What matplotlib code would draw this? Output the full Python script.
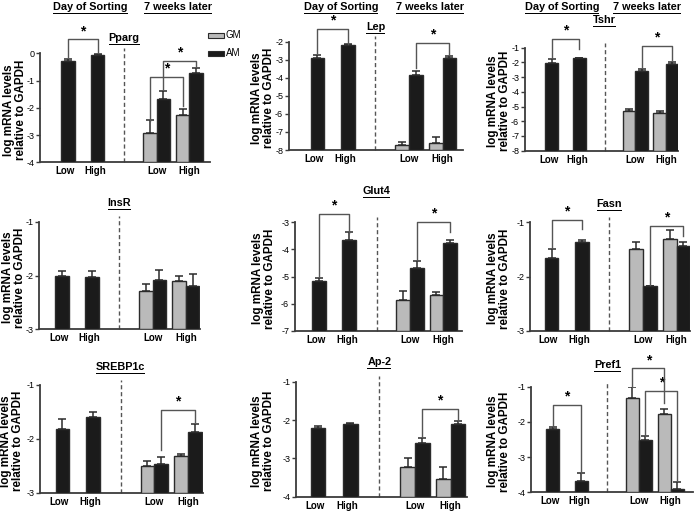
import matplotlib
matplotlib.use('Agg')
import matplotlib.pyplot as plt
from matplotlib.patches import Rectangle
from matplotlib.transforms import blended_transform_factory

plt.rcParams['font.family'] = ['Liberation Sans', 'DejaVu Sans']
plt.rcParams['axes.unicode_minus'] = False

# ---------------- data ----------------
genes = ['Pparg', 'Lep', 'Tshr', 'InsR', 'Glut4', 'Fasn', 'SREBP1c', 'Ap-2', 'Pref1']
group_labels = ['Low', 'High', 'Low', 'High']
header_labels = ['Day of Sorting', '7 weeks later']
legend_labels = ['GM', 'AM']
ylabel_text = 'log mRNA levels\nrelative to GAPDH'

# Day of sorting (AM only)
day_low      = [-0.28, -2.92, -2.02, -2.00, -5.15, -1.665, -1.82, -2.22, -2.21]
day_low_err  = [0.08, 0.18, 0.23, 0.09, 0.08, 0.17, 0.18, 0.06, 0.07]
day_high     = [-0.07, -2.20, -1.72, -2.02, -3.66, -1.37, -1.60, -2.11, -3.67]
day_high_err = [0.03, 0.07, 0.03, 0.11, 0.32, 0.04, 0.09, 0.03, 0.21]
# 7 weeks later
gm_low       = [-2.91, -7.72, -5.31, -2.28, -5.87, -1.50, -2.50, -3.22, -1.33]
gm_low_err   = [0.46, 0.18, 0.14, 0.12, 0.33, 0.13, 0.08, 0.22, 0.31]
am_low       = [-1.68, -3.86, -2.59, -2.09, -4.70, -2.18, -2.46, -2.59, -2.51]
am_low_err   = [0.31, 0.26, 0.16, 0.20, 0.28, 0.01, 0.13, 0.13, 0.11]
gm_high      = [-2.26, -7.63, -5.47, -2.10, -5.70, -1.30, -2.32, -3.55, -1.78]
gm_high_err  = [0.20, 0.33, 0.16, 0.10, 0.12, 0.15, 0.03, 0.32, 0.14]
am_high      = [-0.73, -2.89, -2.13, -2.20, -3.78, -1.43, -1.87, -2.11, -3.90]
am_high_err  = [0.20, 0.10, 0.13, 0.22, 0.12, 0.07, 0.15, 0.08, 0.20]

# y-axis ranges (min, max)
y_ranges = [(-4, 0), (-8, -2), (-8, -1), (-3, -1), (-7, -3), (-3, -1), (-3, -1), (-4, -1), (-4, -1)]

# significance brackets: (bar_a, bar_b, level, leg_a_end, leg_b_end)
# bars: 0 day low, 1 day high, 2 GM low, 3 AM low, 4 GM high, 5 AM high
brackets = [
    [(0, 1, 0.51, -0.15, 0.0), (2, 4, -0.88, -2.5, -1.95), (3, 5, -0.28, -1.3, -0.5)],
    [(0, 1, -1.3, -2.65, -2.1), (3, 5, -2.05, -3.48, -2.74)],
    [(0, 1, -0.41, -1.73, -1.1), (3, 5, -0.86, -2.3, -1.84)],
    [],
    [(0, 1, -2.69, -5.0, -3.38), (3, 5, -2.98, -4.39, -3.34)],
    [(0, 1, -0.96, -1.48, -1.13), (3, 5, -1.06, -2.16, -1.25)],
    [(3, 5, -1.46, -2.2, -1.68)],
    [(3, 5, -1.7, -2.43, -2.02)],
    [(0, 1, -1.52, -2.14, -3.44), (2, 4, -0.48, -1.0, -1.47), (3, 5, -1.11, -2.4, -3.65)],
]

# ---------------- layout (pixels) ----------------
W, H = 694, 512
# axis rectangles: left, right, top(ymax), bottom(ymin)
axes_px = [(40, 210, 53.3, 162.3), (289, 463, 41.7, 150), (525, 678, 47.7, 150.7),
           (39, 200, 221.7, 329.3), (295, 462, 222.3, 330.7), (530, 690, 222.3, 330.7),
           (40, 203, 385, 492.7), (296, 467, 381.7, 496.7), (531, 693, 386.7, 492.3)]
xlims = [(0.054, 5.8), (0.066, 5.77), (0.05, 5.53), (0.24, 5.57), (0.21, 5.72),
         (0.295, 5.54), (0.265, 5.59), (0.32, 5.61), (0.25, 5.88)]
title_y_px = [38, 27, 20, 203, 191, 204, 367, 362, 365]
ylabel_x_px = [15, 263, 499, 14, 264, 499, 12, 263, 499]
header_px = [((90.5, 7), (178, 7)), ((341, 7), (430, 7)), ((562, 7), (647, 7))]

slot_x = [1.0, 2.0, 3.775, 4.225, 4.875, 5.325]
divider_x = 2.9
tick_x = [0.9, 1.92, 4.0, 5.1]
bar_w = 0.45

AM_COLOR = '#1b1b1b'
GM_COLOR = '#bababa'
EDGE = '#2b2b2b'
AX_COLOR = '#3c3c3c'

fig = plt.figure(figsize=(W / 100, H / 100), dpi=100)
fig.patch.set_facecolor('white')

underline = []


def fpt(x, y):
    return x / W, 1 - y / H


for i, g in enumerate(genes):
    l, r, t, b = axes_px[i]
    ax = fig.add_axes([l / W, 1 - b / H, (r - l) / W, (b - t) / H])
    ymin, ymax = y_ranges[i]
    ax.set_ylim(ymin, ymax)
    ax.set_xlim(*xlims[i])
    for s in ['top', 'right']:
        ax.spines[s].set_visible(False)
    for s in ['left', 'bottom']:
        ax.spines[s].set_color(AX_COLOR)
        ax.spines[s].set_linewidth(1.3)
    ax.set_yticks(range(ymin, ymax + 1))
    ax.set_yticklabels([str(v) for v in range(ymin, ymax + 1)], fontsize=6.5)
    ax.tick_params(axis='y', length=3, width=1, color=AX_COLOR, pad=1.2)
    ax.set_xticks(tick_x)
    ax.set_xticklabels(group_labels, fontsize=7, fontweight='bold')
    ax.tick_params(axis='x', length=0, pad=3)

    vals = [day_low[i], day_high[i], gm_low[i], am_low[i], gm_high[i], am_high[i]]
    errs = [day_low_err[i], day_high_err[i], gm_low_err[i], am_low_err[i], gm_high_err[i], am_high_err[i]]
    colors = [AM_COLOR, AM_COLOR, GM_COLOR, AM_COLOR, GM_COLOR, AM_COLOR]
    for x, v, e, c in zip(slot_x, vals, errs, colors):
        ax.errorbar([x], [v], yerr=[[0], [e]], fmt='none', ecolor=EDGE, elinewidth=1.1,
                    capsize=3.2, capthick=1.1, zorder=2)
        ax.bar([x], [v - ymin], bottom=ymin, width=bar_w, color=c, edgecolor=EDGE,
               linewidth=1.0, zorder=3)

    ax.plot([divider_x, divider_x], [0, 1.05],
            transform=blended_transform_factory(ax.transData, ax.transAxes),
            color='#555555', lw=1.0, linestyle=(0, (3, 2)), clip_on=False, zorder=1)

    for (a, bb, lev, la, lb) in brackets[i]:
        xa, xb = slot_x[a], slot_x[bb]
        ax.plot([xa, xa, xb, xb], [la, lev, lev, lb], color='#555555', lw=1.0,
                clip_on=False, zorder=4)
        ax.annotate('*', xy=((xa + xb) / 2, lev), xytext=(0, 1), textcoords='offset points',
                    ha='center', va='bottom', fontsize=10, fontweight='bold',
                    annotation_clip=False)

    tt = ax.text(divider_x, fpt(0, title_y_px[i])[1], g,
                 transform=blended_transform_factory(ax.transData, fig.transFigure),
                 ha='center', va='center', fontsize=7.8, fontweight='bold')
    underline.append(tt)

    cx, cy = fpt(ylabel_x_px[i], (t + b) / 2 + 2)
    fig.text(cx, cy, ylabel_text, rotation=90, ha='center', va='center',
             fontsize=8.4, fontweight='bold', linespacing=1.0, multialignment='center')

# headers
for hp in header_px:
    for (x, y), lab in zip(hp, header_labels):
        tx = fig.text(*fpt(x, y), lab, ha='center', va='center', fontsize=7.8, fontweight='bold')
        underline.append(tx)

# legend
for (y0, c, lab) in [(33, GM_COLOR, legend_labels[0]), (51, AM_COLOR, legend_labels[1])]:
    x0f, y0f = fpt(208, y0 + 5)
    fig.patches.append(Rectangle((x0f, y0f), 16 / W, 5 / H, transform=fig.transFigure,
                                 facecolor=c, edgecolor=EDGE, linewidth=0.8))
    fig.text(*fpt(226, y0 + 2.5), lab, ha='left', va='center', fontsize=7)

fig.canvas.draw()
renderer = fig.canvas.get_renderer()
for tx in underline:
    bb = tx.get_window_extent(renderer)
    fig.patches.append(Rectangle((bb.x0 / W, (bb.y0 - 1.5) / H), (bb.x1 - bb.x0) / W, 1.0 / H,
                                 transform=fig.transFigure, facecolor='black',
                                 edgecolor='none', linewidth=0))

fig.savefig('out.png', dpi=100, facecolor='white')
